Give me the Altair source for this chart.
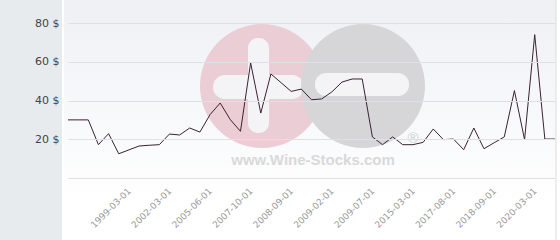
import json
import altair as alt
import pandas as pd

# ---- data ----
date_labels = ['1999-03-01', '2002-03-01', '2005-06-01', '2007-10-01', '2008-09-01',
               '2009-02-01', '2009-07-01', '2015-03-01', '2017-08-01', '2018-09-01',
               '2020-03-01']
first_labeled = 6
label_step = 4
prices = [30, 30, 30, 17.2, 22.9, 12.5, 14.5, 16.5, 16.9, 17.2,
          22.7, 22.2, 25.8, 23.7, 32.7, 38.7, 30.1, 24.1, 59.4, 33.5,
          53.7, 49.2, 44.7, 45.9, 40.4, 40.8, 44.4, 49.5, 51.1, 51.1,
          21.2, 17.2, 21.2, 17.2, 17.2, 18.4, 25.3, 19.8, 20.1, 14.6,
          25.8, 15.1, 18.2, 21.2, 45.1, 19.8, 74.0, 20.1, 20.1]
y_ticks = [0, 20, 40, 60, 80]

df = pd.DataFrame({'i': list(range(len(prices))), 'price': prices})
label_pos = [first_labeled + label_step * k for k in range(len(date_labels))]
label_expr = (json.dumps(date_labels).replace('"', "'")
              + f"[(datum.value - {first_labeled}) / {label_step}]")

one = pd.DataFrame({'a': [0]})


def rect(x, x2, y, y2, color, r=0, opacity=1.0):
    return alt.Chart(one).mark_rect(color=color, cornerRadius=r, opacity=opacity).encode(
        x=alt.value(x), x2=alt.value(x2), y=alt.value(y), y2=alt.value(y2))


strip = rect(-68, -6, -23, 217, '#e7ebee')
bg = alt.Chart(one).mark_rect(
    color=alt.Gradient(gradient='linear',
                       stops=[alt.GradientStop(color='#eef0f4', offset=0),
                              alt.GradientStop(color='#ffffff', offset=0.85)],
                       x1=0, x2=0, y1=0, y2=1)
).encode(x=alt.value(-4), x2=alt.value(488), y=alt.value(-23), y2=alt.value(217))
border = alt.Chart(one).mark_rule(color='#dcdcdc').encode(
    x=alt.value(488), y=alt.value(-23), y2=alt.value(217))

pink = alt.Chart(one).mark_circle(size=15376, color='#ebcdd5', opacity=1).encode(
    x=alt.value(194), y=alt.value(63))
pink_v = rect(180, 201, 15, 110, '#f4f4f7', r=10)
pink_h = rect(145, 236, 52, 76, '#f4f4f7', r=12)
gray = alt.Chart(one).mark_circle(size=15376, color='#d6d6d8', opacity=1).encode(
    x=alt.value(295), y=alt.value(63))
gray_h = rect(247, 341, 50, 73, '#f4f4f7', r=11)
wm_text = alt.Chart(one).mark_text(
    text='www.Wine-Stocks.com', font='Liberation Sans', fontWeight='bold',
    fontSize=15, color='#d9d9d9', align='center', baseline='alphabetic'
).encode(x=alt.value(245), y=alt.value(142))
wm_reg = alt.Chart(one).mark_text(
    text='®', font='Liberation Sans', fontSize=15, color='#d0d0d0',
    align='center', baseline='middle'
).encode(x=alt.value(345), y=alt.value(115))

line = alt.Chart(df).mark_line(color='#3a2230', strokeWidth=1).encode(
    x=alt.X('i:Q', scale=alt.Scale(domain=[0, len(prices) - 1], nice=False, zero=False),
            axis=alt.Axis(values=label_pos, labelExpr=label_expr, labelAngle=315,
                          labelAlign='right', labelBaseline='middle', labelPadding=11,
                          labelColor='#9a9a9a', labelFont='DejaVu Sans', labelFontSize=9,
                          grid=False, ticks=False, domain=False, title=None,
                          labelOverlap=False, zindex=1)),
    y=alt.Y('price:Q', scale=alt.Scale(domain=[0, 80], nice=False),
            axis=alt.Axis(values=y_ticks,
                          labelExpr="datum.value == 0 ? '' : datum.value + ' $'",
                          grid=True, gridColor='#dfe0e3', ticks=False, domain=False,
                          labelPadding=9, labelColor='#444444', labelFont='DejaVu Sans',
                          labelFontSize=11, title=None, zindex=1)),
)

chart = alt.layer(strip, bg, border, pink, pink_v, pink_h, gray, gray_h,
                  wm_text, wm_reg, line).properties(
    width=487, height=155,
    autosize=alt.AutoSizeParams(type='none'),
    padding={'left': 68, 'top': 23, 'right': 5, 'bottom': 62},
    background='#ffffff',
).configure_view(stroke=None)

chart.save('out.html', embed_options={'renderer': 'svg', 'actions': False})
